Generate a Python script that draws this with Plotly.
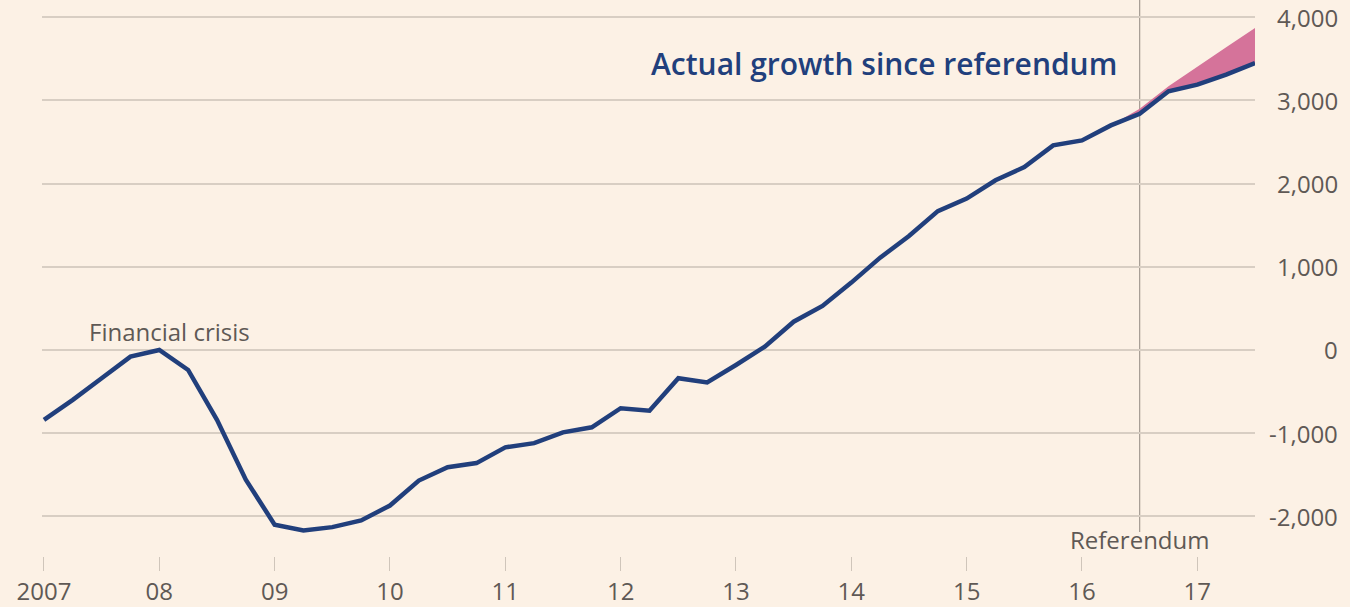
import plotly.graph_objects as go

# Quarterly data, 2007 Q1 .. 2017 Q3 (decimal years)
quarters = [2007 + 0.25 * i for i in range(43)]
actual = [-840, -600, -340, -80, 0, -240, -840, -1560, -2100, -2170,
          -2130, -2050, -1870, -1570, -1410, -1360, -1170, -1120, -990, -930,
          -700, -730, -340, -390, -180, 40, 340, 530, 810, 1110,
          1370, 1670, 1820, 2040, 2200, 2460, 2520, 2700, 2840, 3110,
          3190, 3310, 3450]
forecast_x = [2016.25, 2016.5, 2016.75, 2017.0, 2017.25, 2017.5]
forecast = [2700, 2900, 3170, 3410, 3640, 3870]

year_ticks = list(range(2007, 2018))
year_labels = ["2007", "08", "09", "10", "11", "12", "13", "14", "15", "16", "17"]
y_ticks = [-2000, -1000, 0, 1000, 2000, 3000, 4000]
y_labels = ["-2,000", "-1,000", "0", "1,000", "2,000", "3,000", "4,000"]
referendum = 2016.5

BG = "#FCF1E5"
BLUE = "#213F7C"
PINK = "#D5739A"
GRID = "#D8CEC3"
TXT = "#5F5955"
FONT = "Open Sans"

fig = go.Figure()
# forecast upper edge (invisible) + fill down to actual
fig.add_trace(go.Scatter(x=forecast_x, y=forecast, mode="lines",
                         line=dict(width=0, color=PINK), showlegend=False,
                         hoverinfo="skip"))
act_sub_x = [q for q in quarters if q >= forecast_x[0]]
act_sub_y = [v for q, v in zip(quarters, actual) if q >= forecast_x[0]]
fig.add_trace(go.Scatter(x=act_sub_x, y=act_sub_y, mode="lines",
                         line=dict(width=0, color=PINK), fill="tonexty",
                         fillcolor=PINK, showlegend=False, hoverinfo="skip"))
fig.add_trace(go.Scatter(x=quarters, y=actual, mode="lines",
                         line=dict(width=4.5, color=BLUE), showlegend=False,
                         cliponaxis=False))

fig.add_shape(type="line", xref="x", yref="paper", x0=referendum, x1=referendum,
              y0=0.043, y1=1, line=dict(color="#A39A91", width=1.2), layer="below")

annotations = [
    dict(x=referendum, y=0.029, xref="x", yref="paper", text="Referendum",
         showarrow=False, xanchor="center", yanchor="middle",
         font=dict(family=FONT, size=24, color=TXT)),
    dict(x=2008.09, y=217, xref="x", yref="y", text="Financial crisis",
         showarrow=False, xanchor="center", yanchor="middle",
         font=dict(family=FONT, size=24, color=TXT)),
    dict(x=2016.32, y=3440, xref="x", yref="y", text="Actual growth since referendum",
         showarrow=False, xanchor="right", yanchor="middle",
         font=dict(family=FONT, size=30, color=BLUE, weight=600)),
]
for v, lab in zip(y_ticks, y_labels):
    annotations.append(dict(x=1.0701, y=v, xref="paper", yref="y", text=lab,
                            showarrow=False, xanchor="right", yanchor="middle",
                            font=dict(family=FONT, size=24, color=TXT)))

fig.update_layout(
    width=1350, height=607,
    margin=dict(l=42, r=95, t=0, b=51),
    paper_bgcolor=BG, plot_bgcolor=BG,
    annotations=annotations,
    xaxis=dict(range=[2006.983, 2017.5], tickvals=year_ticks, ticktext=year_labels,
               showgrid=False, zeroline=False, showline=False,
               ticks="outside", ticklen=14, tickwidth=1.2, tickcolor="#CFC5BA",
               tickfont=dict(family=FONT, size=24, color=TXT)),
    yaxis=dict(range=[-2477, 4208], tickvals=y_ticks, showticklabels=False,
               side="right", showgrid=True, gridcolor=GRID, gridwidth=1.6,
               zeroline=False, showline=False, ticks=""),
)

fig.write_html("out.html")
